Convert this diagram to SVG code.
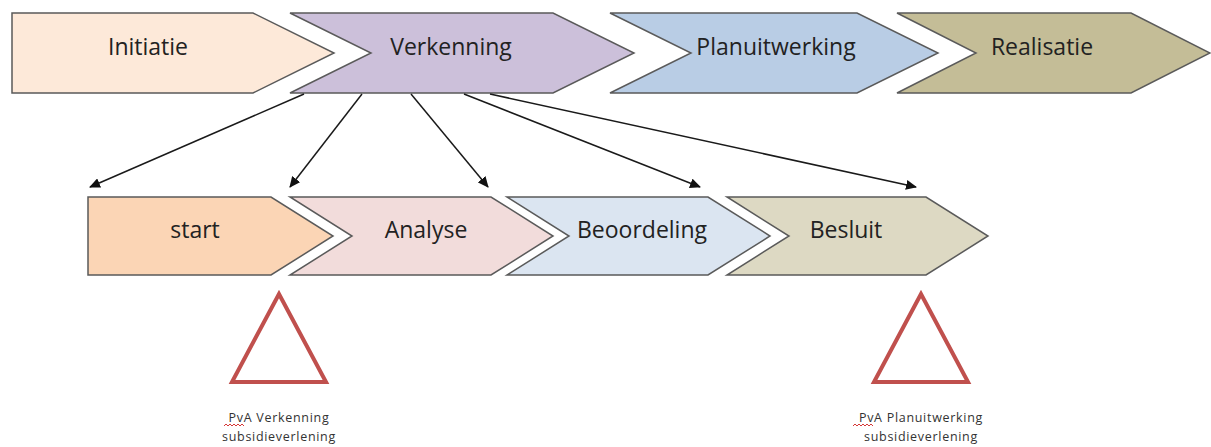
<svg xmlns="http://www.w3.org/2000/svg" width="1211" height="447" viewBox="0 0 1211 447">
<defs>
<style>
.sh{stroke:#5a5a5a;stroke-width:1.5;stroke-linejoin:miter}
.lbl{font-family:"Open Sans","Liberation Sans",sans-serif;font-size:23px;fill:#222;text-anchor:middle}
.small{font-family:"Open Sans","Liberation Sans",sans-serif;font-size:12.5px;fill:#333;text-anchor:middle;letter-spacing:0.7px}
.tri{fill:#fff;stroke:#c0504d;stroke-width:4;stroke-linejoin:miter}
.con{stroke:#1a1a1a;stroke-width:1.5;fill:none;marker-end:url(#ah)}
.sq{fill:none;stroke:#d02020;stroke-width:0.9}
</style>
<marker id="ah" markerWidth="11" markerHeight="10" refX="10" refY="5" orient="auto" markerUnits="userSpaceOnUse">
<path d="M0,0 L11,5 L0,10 z" fill="#111"/>
</marker>
</defs>
<rect width="1211" height="447" fill="#fff"/>
<g id="initiatie">
<polygon class="sh" fill="#fde9d9" points="12,13 253,13 334,53 253,93 12,93"/>
<text class="lbl" x="148" y="55">Initiatie</text>
</g>
<g id="verkenning">
<polygon class="sh" fill="#ccc0da" points="290,13 553,13 634,53 553,93 290,93 371,53"/>
<text class="lbl" x="451" y="55">Verkenning</text>
</g>
<g id="planuitwerking">
<polygon class="sh" fill="#b9cde5" points="610,13 857,13 938,53 857,93 610,93 691,53"/>
<text class="lbl" x="776" y="55">Planuitwerking</text>
</g>
<g id="realisatie">
<polygon class="sh" fill="#c4bd97" points="897,13 1131,13 1210,53 1131,93 897,93 976,53"/>
<text class="lbl" x="1042" y="55">Realisatie</text>
</g>
<g id="start">
<polygon class="sh" fill="#fbd5b5" points="88,197 271,197 333,236 271,275 88,275"/>
<text class="lbl" x="195" y="238">start</text>
</g>
<g id="analyse">
<polygon class="sh" fill="#f2dcdb" points="290,197 491,197 553,236 491,275 290,275 352,236"/>
<text class="lbl" x="426" y="238">Analyse</text>
</g>
<g id="beoordeling">
<polygon class="sh" fill="#dbe5f1" points="507,197 708,197 770,236 708,275 507,275 569,236"/>
<text class="lbl" x="642" y="238">Beoordeling</text>
</g>
<g id="besluit">
<polygon class="sh" fill="#ddd9c3" points="727,197 926,197 988,236 926,275 727,275 789,236"/>
<text class="lbl" x="846" y="238">Besluit</text>
</g>
<g id="connectors">
<line class="con" x1="304" y1="94" x2="90" y2="187"/>
<line class="con" x1="362" y1="94" x2="290" y2="187"/>
<line class="con" x1="411" y1="94" x2="488" y2="187"/>
<line class="con" x1="464" y1="94" x2="700" y2="187"/>
<line class="con" x1="490" y1="94" x2="916" y2="187"/>
</g>
<g id="milestone-verkenning">
<polygon class="tri" points="279,294 232,382 326,382"/>
<text class="small" x="279" y="422">PvA Verkenning</text>
<text class="small" x="279" y="441">subsidieverlening</text>
<path class="sq" d="M224,426 l2,-2 l2,2 l2,-2 l2,2 l2,-2 l2,2 l2,-2 l2,2 l2,-2 l2,2"/>
</g>
<g id="milestone-planuitwerking">
<polygon class="tri" points="921,294 874,382 968,382"/>
<text class="small" x="921" y="422">PvA Planuitwerking</text>
<text class="small" x="921" y="441">subsidieverlening</text>
<path class="sq" d="M853,426 l2,-2 l2,2 l2,-2 l2,2 l2,-2 l2,2 l2,-2 l2,2 l2,-2 l2,2"/>
</g>
</svg>
